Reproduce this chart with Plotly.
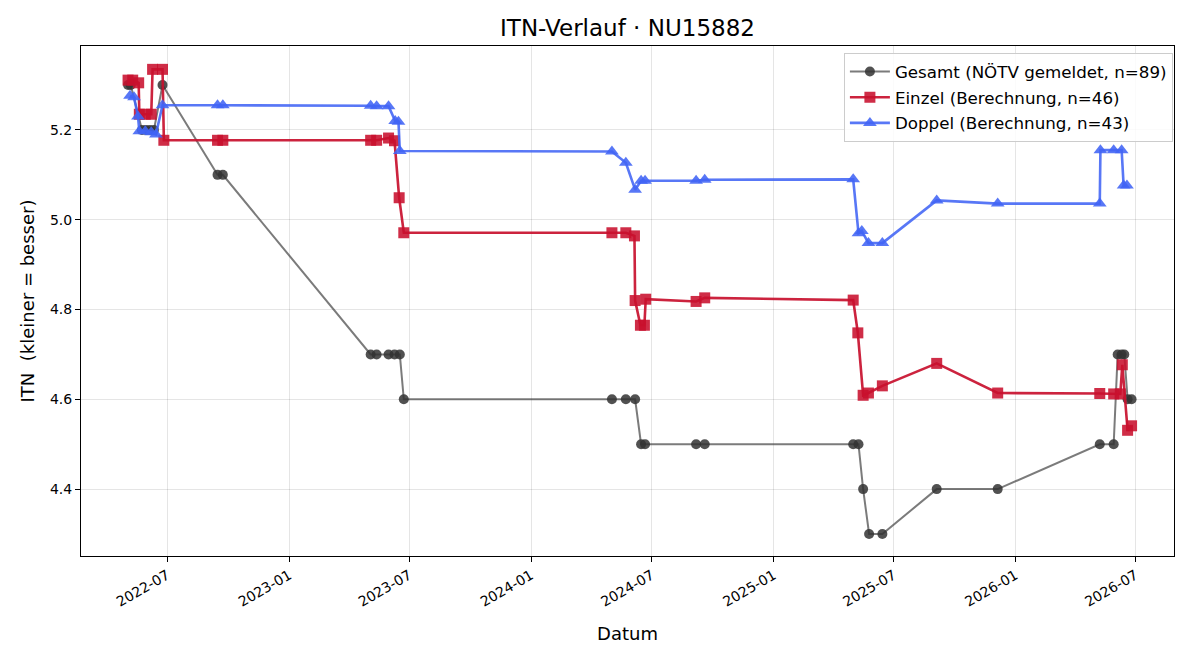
import plotly.graph_objects as go

# Gesamt (NÖTV gemeldet)
gesamt_dates = ["2022-05-03", "2022-05-07", "2022-05-24", "2022-05-30", "2022-06-05", "2022-06-11",
                "2022-06-24", "2022-09-15", "2022-09-23", "2023-05-04", "2023-05-13", "2023-05-31",
                "2023-06-09", "2023-06-17", "2023-06-23", "2024-05-02", "2024-05-23", "2024-06-06",
                "2024-06-15", "2024-06-21", "2024-09-06", "2024-09-19", "2025-05-01", "2025-05-09",
                "2025-05-16", "2025-05-25", "2025-06-14", "2025-09-04", "2025-12-05", "2026-05-08",
                "2026-05-29", "2026-06-04", "2026-06-10", "2026-06-14", "2026-06-19", "2026-06-25"]
gesamt_vals = [5.3, 5.3, 5.2, 5.2, 5.2, 5.2,
               5.3, 5.1, 5.1, 4.7, 4.7, 4.7,
               4.7, 4.7, 4.6, 4.6, 4.6, 4.6,
               4.5, 4.5, 4.5, 4.5, 4.5, 4.5,
               4.4, 4.3, 4.3, 4.4, 4.4, 4.5,
               4.5, 4.7, 4.7, 4.7, 4.6, 4.6]

# Einzel (Berechnung)
einzel_dates = ["2022-05-03", "2022-05-10", "2022-05-19", "2022-05-20", "2022-05-29", "2022-06-07",
                "2022-06-09", "2022-06-24", "2022-06-26", "2022-09-15", "2022-09-23", "2023-05-04",
                "2023-05-13", "2023-05-31", "2023-06-09", "2023-06-16", "2023-06-23", "2024-05-02",
                "2024-05-23", "2024-06-05", "2024-06-06", "2024-06-14", "2024-06-20", "2024-06-22",
                "2024-09-06", "2024-09-19", "2025-05-01", "2025-05-08", "2025-05-16", "2025-05-24",
                "2025-06-14", "2025-09-04", "2025-12-05", "2026-05-08", "2026-05-29", "2026-06-08",
                "2026-06-11", "2026-06-19", "2026-06-25"]
einzel_vals = [5.311, 5.311, 5.305, 5.235, 5.235, 5.235,
               5.335, 5.335, 5.177, 5.177, 5.177, 5.177,
               5.177, 5.182, 5.176, 5.049, 4.971, 4.971,
               4.971, 4.964, 4.820, 4.765, 4.765, 4.823,
               4.818, 4.826, 4.821, 4.748, 4.609, 4.614,
               4.630, 4.680, 4.614, 4.613, 4.612, 4.612,
               4.677, 4.531, 4.541]

# Doppel (Berechnung)
doppel_dates = ["2022-05-06", "2022-05-12", "2022-05-18", "2022-05-20", "2022-05-29", "2022-06-07",
                "2022-06-14", "2022-06-24", "2022-09-15", "2022-09-23", "2023-05-04", "2023-05-13",
                "2023-05-31", "2023-06-10", "2023-06-15", "2023-06-17", "2024-05-02", "2024-05-23",
                "2024-06-06", "2024-06-15", "2024-06-21", "2024-09-06", "2024-09-19", "2025-05-01",
                "2025-05-09", "2025-05-14", "2025-05-24", "2025-06-14", "2025-09-04", "2025-12-05",
                "2026-05-08", "2026-05-09", "2026-05-29", "2026-06-10", "2026-06-13", "2026-06-18"]
doppel_vals = [5.276, 5.273, 5.230, 5.197, 5.197, 5.195,
               5.190, 5.255, 5.255, 5.255, 5.254, 5.253,
               5.253, 5.220, 5.218, 5.153, 5.152, 5.127,
               5.067, 5.087, 5.087, 5.087, 5.089, 5.090,
               4.970, 4.975, 4.948, 4.948, 5.043, 5.036,
               5.036, 5.155, 5.155, 5.155, 5.076, 5.076]

FONT = "DejaVu Sans"

fig = go.Figure()
fig.add_trace(go.Scatter(
    x=gesamt_dates, y=gesamt_vals, mode="lines+markers",
    name="Gesamt (NÖTV gemeldet, n=89)", legendgroup="g1",
    line=dict(color="rgba(60,60,60,0.68)", width=2),
    marker=dict(symbol="circle", size=10, color="rgba(50,50,50,0.85)", line=dict(width=0)),
))
fig.add_trace(go.Scatter(
    x=einzel_dates, y=einzel_vals, mode="lines+markers",
    name="Einzel (Berechnung, n=46)", legendgroup="g2",
    line=dict(color="rgba(200,16,46,0.92)", width=2.6),
    marker=dict(symbol="square", size=11, color="rgba(200,16,46,0.88)", line=dict(width=0)),
))
fig.add_trace(go.Scatter(
    x=doppel_dates, y=doppel_vals, mode="lines+markers",
    name="Doppel (Berechnung, n=43)", legendgroup="g3",
    line=dict(color="rgba(65,100,245,0.88)", width=2.6),
    marker=dict(symbol="triangle-up", size=12, color="rgba(65,100,245,0.88)", line=dict(width=0)),
))

axis_common = dict(
    showline=True, linecolor="black", linewidth=1, mirror=True,
    ticks="outside", ticklen=5, tickcolor="black", tickwidth=1,
    showgrid=True, gridcolor="rgba(0,0,0,0.1)", gridwidth=1,
    zeroline=False,
    tickfont=dict(family=FONT, size=14, color="black"),
)

fig.update_layout(
    width=1200, height=660,
    paper_bgcolor="white", plot_bgcolor="white",
    margin=dict(l=81, r=26, t=46, b=104),
    font=dict(family=FONT, size=16, color="black"),
    title=dict(text="ITN-Verlauf · NU15882", xref="paper", x=0.5, xanchor="center",
               y=0.957, yanchor="middle",
               font=dict(family=FONT, size=23, color="black")),
    xaxis=dict(
        **axis_common,
        type="date",
        range=["2022-02-21", "2026-08-28"],
        dtick="M6", tick0="2022-01-01", tickformat="%Y-%m",
        tickangle=-30,
        title=dict(text="Datum", font=dict(family=FONT, size=18), standoff=18),
    ),
    yaxis=dict(
        **axis_common,
        range=[4.251, 5.387],
        tickvals=[4.4, 4.6, 4.8, 5.0, 5.2],
        ticktext=["4.4", "4.6", "4.8", "5.0", "5.2"],
        title=dict(text="ITN  (kleiner = besser)", font=dict(family=FONT, size=18), standoff=10),
    ),
    legend=dict(
        x=0.999, xanchor="right", y=0.986, yanchor="top",
        bgcolor="rgba(255,255,255,0.85)", bordercolor="#cccccc", borderwidth=1,
        font=dict(family=FONT, size=16.7, color="black"),
        traceorder="grouped", tracegroupgap=1,
        itemwidth=40,
    ),
    showlegend=True,
)

fig.write_html("out.html")
